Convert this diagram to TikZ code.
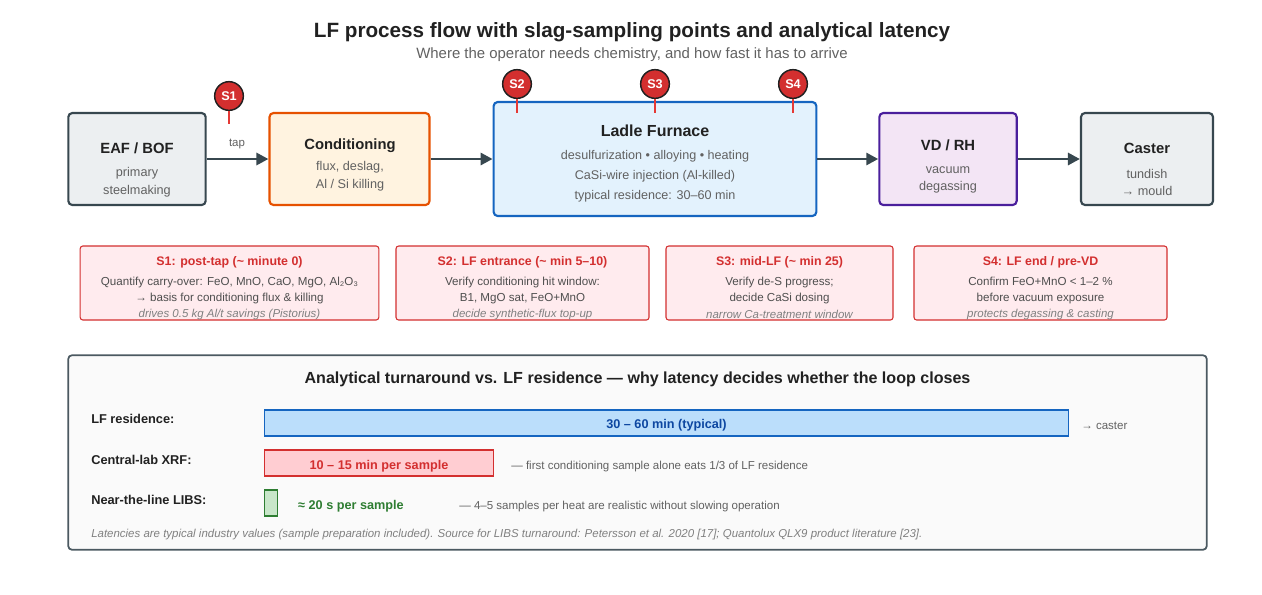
\documentclass[tikz,border=0pt]{standalone}
\usepackage{fontspec}
\setmainfont{Liberation Sans}
\usetikzlibrary{arrows.meta}
\definecolor{inkdark}{HTML}{212121}
\definecolor{inkgrey}{HTML}{616161}
\definecolor{slate}{HTML}{37474F}
\definecolor{slatefill}{HTML}{ECEFF1}
\definecolor{condline}{HTML}{E65100}
\definecolor{condfill}{HTML}{FFF3E0}
\definecolor{lfline}{HTML}{1565C0}
\definecolor{lffill}{HTML}{E3F2FD}
\definecolor{vdline}{HTML}{4A1F9C}
\definecolor{vdfill}{HTML}{F3E5F5}
\definecolor{sred}{HTML}{D32F2F}
\definecolor{tickred}{HTML}{E53935}
\definecolor{cardfill}{HTML}{FFEBEE}
\definecolor{barblue}{HTML}{BBDEFB}
\definecolor{bartext}{HTML}{0D47A1}
\definecolor{barred}{HTML}{FFCDD2}
\definecolor{bargreen}{HTML}{C8E6C9}
\definecolor{sgreen}{HTML}{2E7D32}
\tikzset{
	procbox/.style={draw, line width=1.6pt, rounded corners=3pt, inner sep=0pt},
	boxhead/.style={text=inkdark, font=\bfseries\fontsize{11.1}{14}\selectfont},
	boxsub/.style={text=inkgrey, align=center, font=\fontsize{9.5}{13.2}\selectfont},
	flow/.style={draw=slate, line width=2.2pt, -{Triangle[length=9pt,width=9pt]}},
	pin/.style={circle, draw=inkdark, fill=sred, line width=1.1pt, minimum size=21.5pt, inner sep=0pt, text=white, font=\bfseries\fontsize{9.5}{11}\selectfont},
	pintick/.style={draw=tickred, line width=1.1pt},
	card/.style={draw=sred, fill=cardfill, line width=0.8pt, rounded corners=2pt, inner sep=0pt},
	cardhead/.style={text=sred, font=\bfseries\fontsize{9.3}{11}\selectfont},
	cardtext/.style={text=inkgrey!80!black, align=center, font=\fontsize{8.7}{12}\selectfont},
	cardnote/.style={text=gray, font=\itshape\fontsize{8.6}{10}\selectfont},
	rowlabel/.style={anchor=west, inner sep=0pt, text=inkdark, font=\bfseries\fontsize{9.6}{11}\selectfont},
	bar/.style={draw, line width=1.2pt, inner sep=0pt},
	barvalue/.style={font=\bfseries\fontsize{9.5}{11}\selectfont},
	rowtext/.style={anchor=west, inner sep=0pt, text=inkgrey, font=\fontsize{8.65}{10}\selectfont}
}
\begin{document}
\begin{tikzpicture}[x=0.75pt,y=-0.75pt]
	\useasboundingbox (0,0) rectangle (1262,594);
	% heading
	\node[text=inkdark, font=\bfseries\fontsize{15.5}{19}\selectfont] (title) at (632,32) {LF process flow with slag-sampling points and analytical latency};
	\node[text=inkgrey, font=\fontsize{11.2}{13}\selectfont] (subtitle) at (632,55) {Where the operator needs chemistry, and how fast it has to arrive};
	% process boxes
	\node[procbox, draw=slate, fill=slatefill, minimum width=103pt, minimum height=69pt] (eaf) at (137,159) {};
	\node[procbox, draw=condline, fill=condfill, minimum width=120pt, minimum height=69pt] (cond) at (349.5,159) {};
	\node[procbox, draw=lfline, fill=lffill, minimum width=242pt, minimum height=85.5pt] (lf) at (655,159) {};
	\node[procbox, draw=vdline, fill=vdfill, minimum width=103pt, minimum height=69pt] (vd) at (948,159) {};
	\node[procbox, draw=slate, fill=slatefill, minimum width=99pt, minimum height=69pt] (caster) at (1147,159) {};
	\node[boxhead] (eaf head) at (137,148.5) {EAF / BOF};
	\node[boxsub] (eaf sub) at (137,182.5) {primary\\steelmaking};
	\node[boxhead] (cond head) at (350,146) {Conditioning};
	\node[boxsub] (cond sub) at (350,176) {flux, deslag,\\Al / Si killing};
	\node[boxhead, font=\bfseries\fontsize{12}{14}\selectfont] (lf head) at (655,131) {Ladle Furnace};
	\node[boxsub, font=\fontsize{9.45}{15}\selectfont] (lf sub) at (655,176) {desulfurization • alloying • heating\\CaSi-wire injection (Al-killed)\\typical residence: 30–60 min};
	\node[boxhead] (vd head) at (948,145.5) {VD / RH};
	\node[boxsub] (vd sub) at (948,180) {vacuum\\degassing};
	\node[boxhead] (caster head) at (1147,148.5) {Caster};
	\node[boxsub] (caster sub) at (1147,182.5) {tundish\\→ mould};
	% flow
	\draw[flow] (eaf) -- (cond);
	\draw[flow] (cond) -- (lf);
	\draw[flow] (lf) -- (vd);
	\draw[flow] (vd) -- (caster);
	\node[text=inkgrey, font=\fontsize{8.6}{10}\selectfont] (tap) at (237,144) {tap};
	% sampling pins
	\foreach \name/\x/\y/\tipy in {S1/229/96/124,S2/517/84/113,S3/655/84/113,S4/793/84/113}
	{
		\coordinate (\name tip) at (\x,\tipy);
		\node[pin] (\name) at (\x,\y) {\name};
		\draw[pintick] (\name) -- (\name tip);
	}
	% sample cards
	\node[card, minimum width=224pt, minimum height=55.5pt] (card1) at (229.5,283) {};
	\node[card, minimum width=189.75pt, minimum height=55.5pt] (card2) at (522.5,283) {};
	\node[card, minimum width=170.25pt, minimum height=55.5pt] (card3) at (779.5,283) {};
	\node[card, minimum width=189.75pt, minimum height=55.5pt] (card4) at (1040.5,283) {};
	\node[cardhead] (card1 head) at (229.5,262.5) {S1: post-tap (\textasciitilde{} minute 0)};
	\node[cardtext] (card1 text) at (229.5,290) {Quantify carry-over: FeO, MnO, CaO, MgO, Al₂O₃\\→ basis for conditioning flux \& killing};
	\node[cardnote] (card1 note) at (229.5,314.5) {drives 0.5 kg Al/t savings (Pistorius)};
	\node[cardhead] (card2 head) at (522.5,262.5) {S2: LF entrance (\textasciitilde{} min 5–10)};
	\node[cardtext] (card2 text) at (522.5,290) {Verify conditioning hit window:\\B1, MgO sat, FeO+MnO};
	\node[cardnote] (card2 note) at (522.5,314.5) {decide synthetic-flux top-up};
	\node[cardhead] (card3 head) at (779.5,262.5) {S3: mid-LF (\textasciitilde{} min 25)};
	\node[cardtext] (card3 text) at (779.5,290) {Verify de-S progress;\\decide CaSi dosing};
	\node[cardnote] (card3 note) at (779.5,314.5) {narrow Ca-treatment window};
	\node[cardhead] (card4 head) at (1040.5,262.5) {S4: LF end / pre-VD};
	\node[cardtext] (card4 text) at (1040.5,290) {Confirm FeO+MnO < 1–2 \%\\before vacuum exposure};
	\node[cardnote] (card4 note) at (1040.5,314.5) {protects degassing \& casting};
	% latency panel
	\node[draw=slate!90, fill=black!2, line width=1.3pt, rounded corners=3pt, minimum width=854pt, minimum height=146pt, inner sep=0pt] (panel) at (637.5,452.5) {};
	\node[text=inkdark, font=\bfseries\fontsize{12.05}{14}\selectfont] (panel title) at (637.5,379) {Analytical turnaround vs. LF residence — why latency decides whether the loop closes};
	\node[rowlabel] (row lf) at (91,418.5) {LF residence:};
	\node[rowlabel] (row xrf) at (91,460) {Central-lab XRF:};
	\node[rowlabel] (row libs) at (91,500) {Near-the-line LIBS:};
	\node[bar, draw=lfline, fill=barblue, minimum width=603pt, minimum height=19.5pt] (bar lf) at (666.5,423) {};
	\node[bar, draw=sred, fill=barred, minimum width=172pt, minimum height=19.5pt] (bar xrf) at (379,463) {};
	\node[bar, draw=sgreen, fill=bargreen, minimum width=10pt, minimum height=19.5pt] (bar libs) at (271,503) {};
	\node[barvalue, text=bartext] (lf value) at (666.5,425.5) {30 – 60 min (typical)};
	\node[barvalue, text=sred] (xrf value) at (379,466.5) {10 – 15 min per sample};
	\node[barvalue, text=sgreen] (libs value) at (351,506) {≈ 20 s per sample};
	\node[rowtext] (lf note) at (1081,426) {→ caster};
	\node[rowtext] (xrf note) at (511,466.5) {— first conditioning sample alone eats 1/3 of LF residence};
	\node[rowtext] (libs note) at (459,506.5) {— 4–5 samples per heat are realistic without slowing operation};
	\node[anchor=west, inner sep=0pt, text=gray, font=\itshape\fontsize{8.6}{10}\selectfont] (footnote) at (91,535) {Latencies are typical industry values (sample preparation included). Source for LIBS turnaround: Petersson et al. 2020 [17]; Quantolux QLX9 product literature [23].};
\end{tikzpicture}
\end{document}
